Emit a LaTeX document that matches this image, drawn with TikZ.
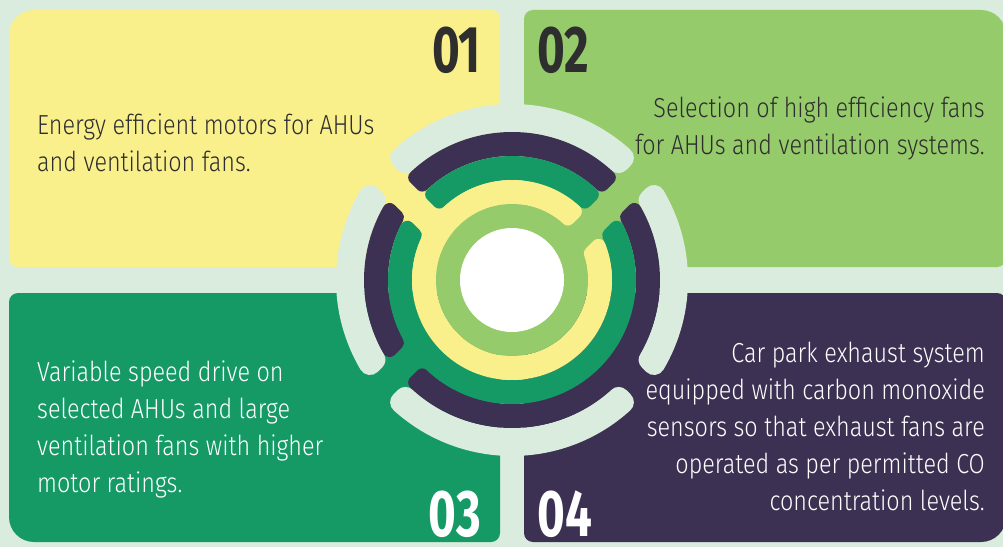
\documentclass[tikz,border=0pt]{standalone}
\usepackage{fontspec}
\setmainfont{Fira Sans}[FakeStretch=0.85, UprightFont={* Light}, BoldFont={* Bold}]
\newfontfamily\numfont{Fira Sans}[FakeStretch=0.72]
\usepackage{tikz}

\definecolor{mint}{HTML}{D9ECDD}
\definecolor{sunyellow}{HTML}{FAF08B}
\definecolor{leafgreen}{HTML}{96CB6C}
\definecolor{deepgreen}{HTML}{159A66}
\definecolor{plum}{HTML}{3D3153}
\definecolor{ink}{HTML}{2E2E2E}

% panel: colour, x1, y1, x2, y2, corner radii BL, BR, TR, TL
\newcommand\panel[9]{%
  \fill[#1] ({#2+#6},#3) -- ({#4-#7},#3) arc[start angle=-90,end angle=0,radius=#7pt]
    -- (#4,{#5-#8}) arc[start angle=0,end angle=90,radius=#8pt]
    -- ({#2+#9},#5) arc[start angle=90,end angle=180,radius=#9pt]
    -- (#2,{#3+#6}) arc[start angle=180,end angle=270,radius=#6pt] -- cycle;}

% ring piece: colour, r in, r out, corner, arm angle A, edge A, arm angle B, edge B
\newcommand\ringpart[8]{%
  \pgfmathsetmacro\rout{#3-#4}\pgfmathsetmacro\rin{#2+#4}%
  \pgfmathsetmacro\aao{#5+asin((#6+#4)/\rout)}%
  \pgfmathsetmacro\aai{#5+asin((#6+#4)/\rin)}%
  \pgfmathsetmacro\abo{#7+asin((#8-#4)/\rout)}%
  \pgfmathsetmacro\abi{#7+asin((#8-#4)/\rin)}%
  \draw[#1, fill=#1, line width={2*#4pt}, line join=round]
    (\aao:\rout pt) arc[start angle=\aao, end angle=\abo, radius=\rout pt]
    -- (\abi:\rin pt) arc[start angle=\abi, end angle=\aai, radius=\rin pt] -- cycle;}

% arm band: colour, angle, offset, end
\newcommand\armband[4]{%
  \draw[#1, line width=52pt, rotate=#2] (#4,#3) -- (190,#3);}

\tikzset{
  bodytext/.style={inner sep=0pt, font=\fontsize{27.5}{33}\selectfont},
  numtext/.style={inner sep=0pt, font=\numfont\bfseries\fontsize{66}{66}\selectfont}
}

\begin{document}
\begin{tikzpicture}[x=1pt, y=1pt]
  \useasboundingbox (0,0) rectangle (1003,547);
  \clip (0,0) rectangle (1003,547);
  \fill[mint] (0,0) rectangle (1003,547);

  % four panels
  \panel{sunyellow}{9}{280}{500}{537}{9}{9}{9}{25}
  \panel{leafgreen}{524}{280}{1006}{537}{9}{9}{25}{9}
  \panel{deepgreen}{9}{5}{500}{254}{25}{9}{9}{9}
  \panel{plum}{524}{5}{1006}{254}{9}{25}{9}{9}

  % rings in the middle
  \begin{scope}[shift={(512,267)}]
    \armband{sunyellow}{135}{16.5}{86}
    \armband{leafgreen}{45}{-16.5}{62}
    \armband{deepgreen}{225}{-16.5}{110}
    \armband{plum}{315}{16.5}{134}

    \ringpart{mint}{148}{176}{11}{45}{-3}{135}{3}
    \ringpart{mint}{148}{176}{11}{135}{30}{225}{-30}
    \ringpart{mint}{148}{176}{11}{225}{-3}{315}{3}
    \ringpart{mint}{148}{176}{11}{315}{30}{405}{-30}

    \ringpart{plum}{124}{148}{7}{45}{-3}{135}{3}
    \ringpart{plum}{124}{148}{7}{135}{30}{225}{-30}
    \ringpart{plum}{124}{148}{7}{225}{-3}{405}{-30}

    \ringpart{deepgreen}{100}{124}{7}{45}{-3}{135}{3}
    \ringpart{deepgreen}{100}{124}{7}{135}{30}{405}{-30}

    \ringpart{sunyellow}{76}{100}{7}{45}{-3}{405}{-30}

    \fill[leafgreen] (0,0) circle (76pt);
    \fill[white] (0,0) circle (52pt);
  \end{scope}

  % numbers
  \node[numtext, text=ink, anchor=base east] (n1) at (481,474) {01};
  \node[numtext, text=ink, anchor=base west] (n2) at (537,474) {02};
  \node[numtext, text=white, anchor=base east] (n3) at (481,11) {03};
  \node[numtext, text=white, anchor=base west] (n4) at (537,11) {04};

  % texts
  \foreach \txt [count=\i] in {Energy efficient motors for AHUs, and ventilation fans.}
    \node[bodytext, text=ink, anchor=base west] (one-\i) at (37,{412-37*(\i-1)}) {\txt};
  \foreach \txt [count=\i] in {Selection of high efficiency fans, for AHUs and ventilation systems.}
    \node[bodytext, text=ink, anchor=base east] (two-\i) at (985,{429-37*(\i-1)}) {\txt};
  \foreach \txt [count=\i] in {Variable speed drive on, selected AHUs and large,
      ventilation fans with higher, motor ratings.}
    \node[bodytext, text=white, anchor=base west] (three-\i) at (37,{166-37*(\i-1)}) {\txt};
  \foreach \txt [count=\i] in {Car park exhaust system, equipped with carbon monoxide,
      sensors so that exhaust fans are, operated as per permitted CO, concentration levels.}
    \node[bodytext, text=white, anchor=base east] (four-\i) at (985,{185-37*(\i-1)}) {\txt};
\end{tikzpicture}
\end{document}
